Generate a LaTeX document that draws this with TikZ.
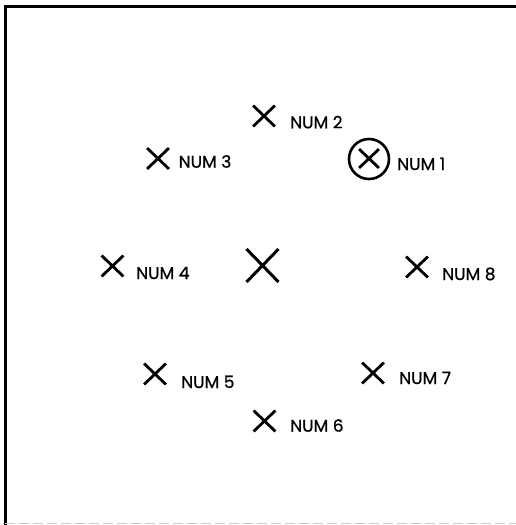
\documentclass[tikz,border=0pt]{standalone}
\usepackage{fontspec}
\setmainfont{Poppins}
\newfontfamily\labfont{Poppins}[FakeBold=0.8]
\usetikzlibrary{shapes.misc}
\begin{document}
\begin{tikzpicture}[x=1pt,y=-1pt,
  xmark/.style={cross out,draw,line width=2.8pt,inner sep=0pt,minimum width=19pt,minimum height=18pt},
  bigxmark/.style={cross out,draw,line width=3pt,inner sep=0pt,minimum width=29pt,minimum height=30pt},
  lab/.style={anchor=base west,inner sep=0pt,font=\labfont\fontsize{17}{17}\selectfont},
  ring/.style={circle,draw,line width=2.6pt,minimum size=40pt,inner sep=0pt}]
\useasboundingbox (0,0) rectangle (516,525);
% frame
\draw[line width=3pt] (5,525) -- (5,6) -- (516,6);
\draw[line width=1pt,gray!40,dash pattern=on 10pt off 4pt] (5,523.5) -- (516,523.5);
% marks
\node[xmark] (x2) at (264,116) {};
\node[xmark] (x3) at (158,158.5) {};
\node[xmark,minimum width=17pt,minimum height=16pt] (x1) at (369,158.5) {};
\node[ring] (c1) at (369,159) {};
\node[bigxmark] (x0) at (262.5,265.5) {};
\node[xmark] (x4) at (112.5,266) {};
\node[xmark] (x8) at (417,267) {};
\node[xmark] (x5) at (155,374) {};
\node[xmark] (x7) at (373,373) {};
\node[xmark] (x6) at (264.5,421) {};
% labels
\node[lab] (l2) at (290,128.3) {NUM 2};
\node[lab] (l3) at (178.5,167.7) {NUM 3};
\node[lab] (l1) at (397,170) {NUM 1};
\node[lab] (l4) at (136,279) {NUM 4};
\node[lab] (l8) at (442,280) {NUM 8};
\node[lab] (l5) at (181,388) {NUM 5};
\node[lab] (l7) at (399,384) {NUM 7};
\node[lab] (l6) at (290,431.7) {NUM 6};
\end{tikzpicture}
\end{document}
